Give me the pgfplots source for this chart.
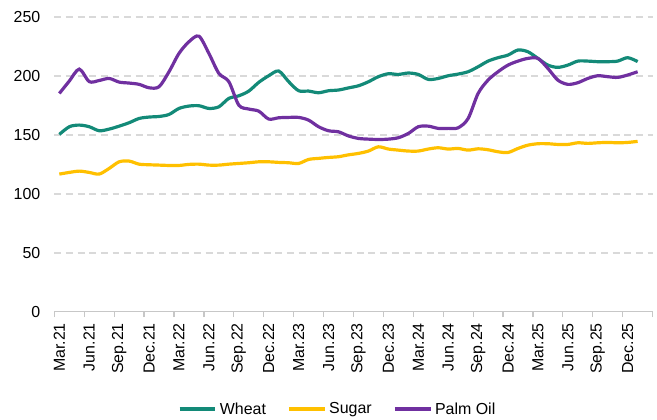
\documentclass[border=0pt]{standalone}
\usepackage{fontspec}
\setmainfont{Liberation Sans}
\usepackage{pgfplots}
\pgfplotsset{compat=1.18}
\definecolor{wheat}{HTML}{138A78}
\definecolor{sugar}{HTML}{FFC000}
\definecolor{palm}{HTML}{7030A0}
\definecolor{gridc}{HTML}{D9D9D9}

\pgfplotstableread{
i wheat sugar palm
0 150.3 116.7 185.0
1 156.8 118.1 195.5
2 158.2 119.2 205.6
3 156.8 118.1 195.0
4 153.4 116.7 196.0
5 154.8 121.5 197.7
6 157.3 127.1 194.6
7 160.2 127.7 193.8
8 163.8 125.1 192.7
9 165.0 124.6 189.8
10 165.5 124.3 190.7
11 167.2 124.0 203.4
12 172.3 124.0 218.9
13 174.3 124.9 228.8
14 174.6 125.1 233.5
15 172.3 124.3 218.9
16 173.7 124.3 202.0
17 180.8 125.1 195.0
18 183.0 125.7 175.1
19 187.0 126.3 171.8
20 194.4 127.1 170.0
21 200.0 127.1 163.3
22 204.0 126.6 164.4
23 195.0 126.3 164.7
24 187.3 125.7 164.7
25 187.0 129.1 162.4
26 185.6 130.0 156.8
27 187.3 130.8 153.4
28 187.9 131.4 152.5
29 189.7 133.0 149.0
30 191.5 134.2 146.9
31 194.9 136.2 146.3
32 199.2 139.8 146.0
33 201.7 137.9 146.3
34 201.1 137.0 147.5
35 202.3 136.2 151.1
36 201.1 136.2 156.8
37 196.9 137.9 157.3
38 197.7 139.0 155.4
39 200.0 137.9 155.4
40 201.4 138.4 155.9
41 203.4 137.0 163.8
42 207.6 138.1 185.0
43 212.4 137.3 196.3
44 215.3 135.6 203.4
45 217.5 135.0 209.0
46 221.8 138.4 212.4
47 220.3 141.2 214.7
48 214.7 142.4 214.7
49 209.0 142.4 206.2
50 207.1 141.8 196.3
51 209.0 141.8 192.7
52 212.4 143.2 194.1
53 212.4 142.7 197.7
54 211.9 143.2 200.0
55 211.9 143.5 199.2
56 212.4 143.2 198.6
57 215.3 143.5 200.6
58 212.0 144.4 203.4
}\datatable

\begin{document}
\begin{tikzpicture}
\begin{axis}[
  scale only axis, width=450pt, height=222pt,
  xmin=-0.5, xmax=59.5, ymin=0, ymax=250,
  font=\fontsize{12}{14}\selectfont,
  /pgf/number format/assume math mode=true,
  axis lines*=left,
  y axis line style={draw=none},
  x axis line style={gridc!80!gray, line width=0.9pt},
  ytick={50,100,...,250}, extra y ticks={0},
  extra y tick style={grid=none},
  ymajorgrids, grid style={gridc, line width=1.5pt, dash pattern=on 5.25pt off 3.5pt},
  ytick style={draw=none},
  yticklabel style={anchor=east, xshift=-7pt},
  xtick={0,3,...,57},
  xticklabels={Mar.21,Jun.21,Sep.21,Dec.21,Mar.22,Jun.22,Sep.22,Dec.22,Mar.23,Jun.23,Sep.23,Dec.23,Mar.24,Jun.24,Sep.24,Dec.24,Mar.25,Jun.25,Sep.25,Dec.25},
  xticklabel style={rotate=90, anchor=east, xshift=-5pt},
  xtick style={draw=none},
  extra x ticks={-0.5,2.5,...,59.5},
  extra x tick labels={},
  extra x tick style={tick align=outside, major tick length=4pt, xtick style={draw=gridc!80!gray, line width=0.9pt}},
  legend columns=3,
  legend style={draw=none, at={(0.474,-0.33)}, anchor=center, inner sep=1pt,
    /tikz/every even column/.append style={column sep=14pt},
    font=\fontsize{12}{14}\selectfont},
  legend image code/.code={\draw[#1, line width=2.6pt] (0pt,0pt) -- (27pt,0pt);},
  every axis plot/.append style={line width=2.4pt, smooth, tension=0.5, no marks},
]
\addplot[wheat] table[x=i, y=wheat] {\datatable};
\addlegendentry{Wheat}
\addplot[sugar] table[x=i, y=sugar] {\datatable};
\addlegendentry{Sugar}
\addplot[palm] table[x=i, y=palm] {\datatable};
\addlegendentry{Palm Oil}
\end{axis}
\path ([xshift=-7pt,yshift=5pt]current bounding box.north west);
\end{tikzpicture}
\end{document}
